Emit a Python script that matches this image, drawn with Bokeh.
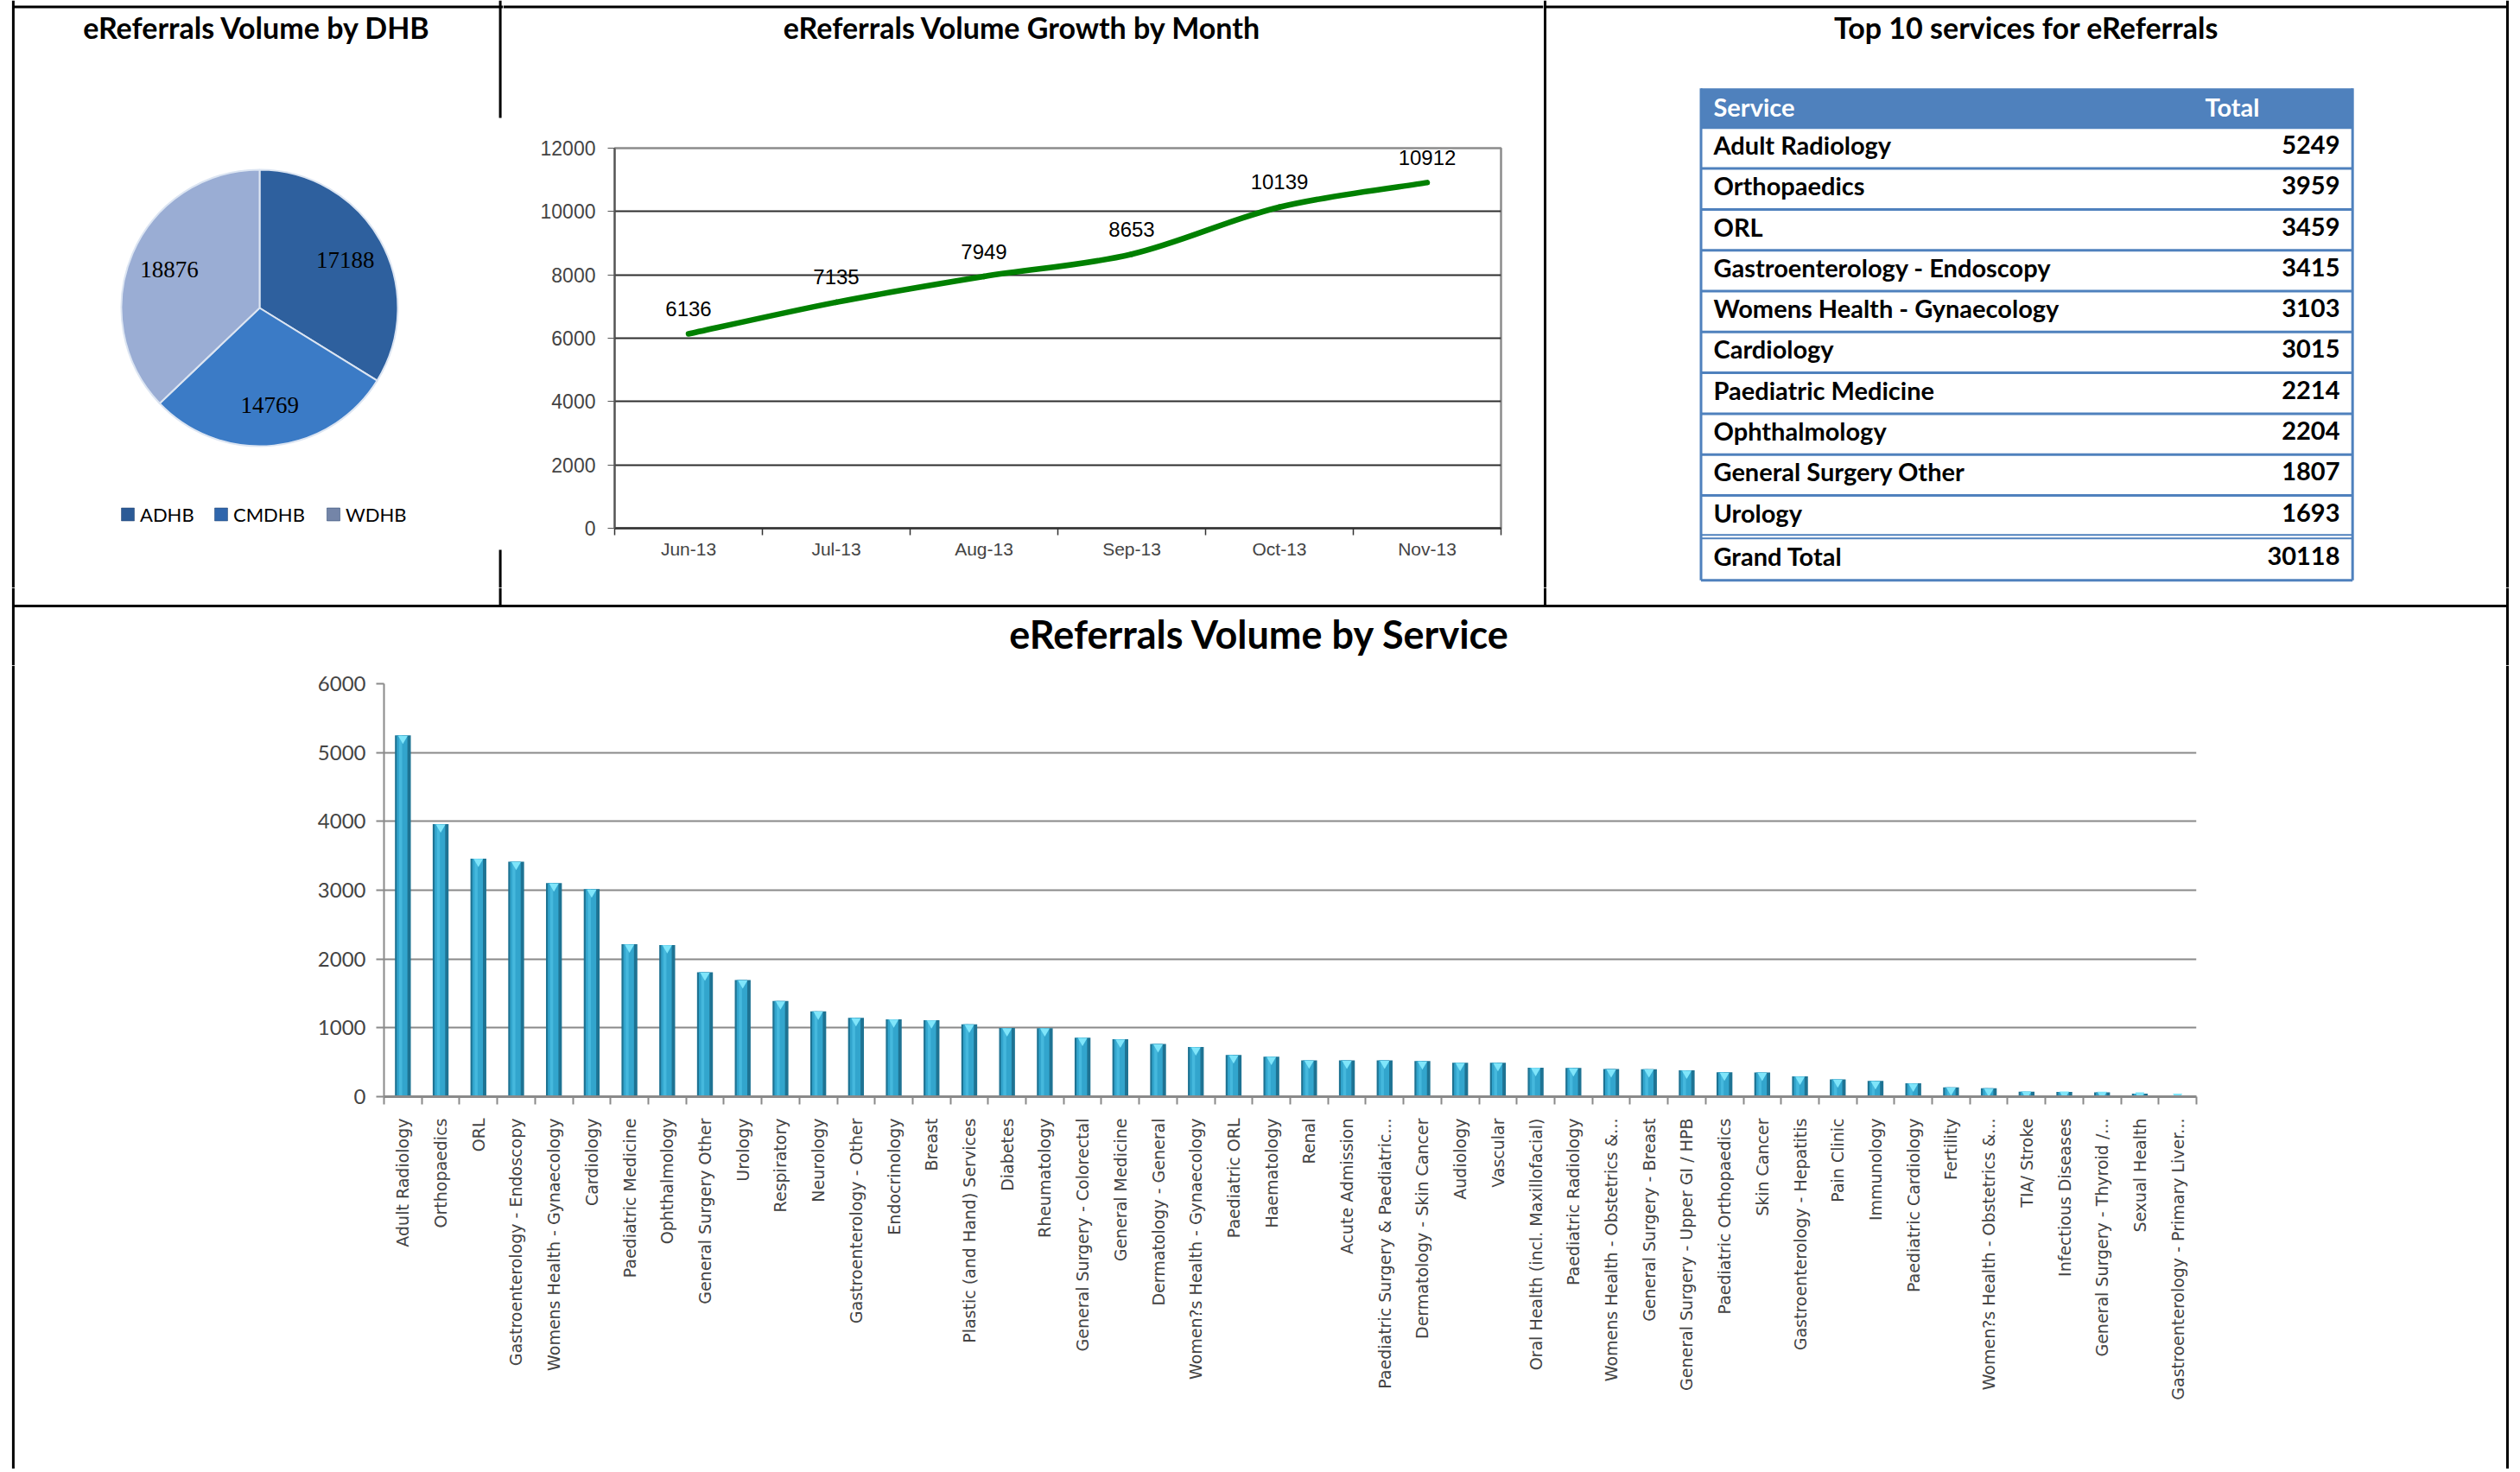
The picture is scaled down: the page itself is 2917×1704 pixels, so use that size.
import math
import numpy as np
from bokeh.plotting import figure
from bokeh.layouts import row, column
from bokeh.models import Range1d, LinearAxis, FixedTicker, CustomJSTickFormatter, Grid
from bokeh.core.properties import value
from bokeh.embed import file_html
from bokeh.resources import INLINE

# ---------------- data ----------------
dhb_names = ["ADHB", "CMDHB", "WDHB"]
dhb_values = [17188, 14769, 18876]

months = ["Jun-13", "Jul-13", "Aug-13", "Sep-13", "Oct-13", "Nov-13"]
month_values = [6136, 7135, 7949, 8653, 10139, 10912]
month_ticks = [0, 2000, 4000, 6000, 8000, 10000, 12000]

services = [
    "Adult Radiology", "Orthopaedics", "ORL", "Gastroenterology - Endoscopy",
    "Womens Health - Gynaecology", "Cardiology", "Paediatric Medicine", "Ophthalmology",
    "General Surgery Other", "Urology", "Respiratory", "Neurology",
    "Gastroenterology - Other", "Endocrinology", "Breast", "Plastic (and Hand) Services",
    "Diabetes", "Rheumatology", "General Surgery - Colorectal", "General Medicine",
    "Dermatology - General", "Women?s Health - Gynaecology", "Paediatric ORL", "Haematology",
    "Renal", "Acute Admission", "Paediatric Surgery & Paediatric...", "Dermatology - Skin Cancer",
    "Audiology", "Vascular", "Oral Health (incl. Maxillofacial)", "Paediatric Radiology",
    "Womens Health - Obstetrics &...", "General Surgery - Breast", "General Surgery - Upper GI / HPB",
    "Paediatric Orthopaedics", "Skin Cancer", "Gastroenterology - Hepatitis", "Pain Clinic",
    "Immunology", "Paediatric Cardiology", "Fertility", "Women?s Health - Obstetrics &...",
    "TIA/ Stroke", "Infectious Diseases", "General Surgery - Thyroid /...", "Sexual Health",
    "Gastroenterology - Primary Liver...",
]
service_values = [
    5249, 3959, 3459, 3415, 3103, 3015, 2214, 2204, 1807, 1693, 1390, 1240,
    1145, 1125, 1112, 1050, 998, 996, 858, 834, 765, 722, 605, 582,
    528, 527, 527, 517, 494, 493, 421, 416, 402, 400, 382, 354,
    352, 295, 252, 228, 194, 136, 122, 73, 69, 64, 44, 10,
]
service_ticks = [0, 1000, 2000, 3000, 4000, 5000, 6000]
top_n = 10

# ---------------- styles ----------------
TITLE_FONT = "Lato"
BORDER = dict(line_color="black", line_width=3)
pie_colors = ["#2E609E", "#3B7BC6", "#9AADD4"]
legend_colors = ["#2B5A96", "#2F66AC", "#7485A8"]
TABLE_BLUE = "#4F81BD"

W_TOTAL, H_TOTAL = 2915, 1700
TOP_H, MID_Y1 = 680, 770
LEFT_B, RIGHT_B, TOP_B, DIV_Y = 14.9, 2902, 7.5, 701
DIV_X1, DIV_X2 = 578.6, 1788
TITLE_Y = 31


def panel(x0, x1, y0, y1):
    p = figure(width=x1 - x0, height=y1 - y0,
               x_range=Range1d(x0, x1), y_range=Range1d(-y1, -y0),
               x_axis_type=None, y_axis_type=None,
               min_border=0, toolbar_location=None, output_backend="svg")
    p.outline_line_color = None
    p.background_fill_color = "white"
    p.border_fill_color = "white"
    return p


def hline(p, x0, x1, y, **kw):
    st = dict(BORDER); st.update(kw)
    p.segment(x0=[x0], y0=[-y], x1=[x1], y1=[-y], **st)


def vline(p, x, y0, y1, **kw):
    st = dict(BORDER); st.update(kw)
    p.segment(x0=[x], y0=[-y0], x1=[x], y1=[-y1], **st)


def label(p, x, y, s, size, bold=False, align="center", font=TITLE_FONT, color="black"):
    p.text(x=[x], y=[-y], text=[s], text_font=value(font), text_font_size=size,
           text_font_style="bold" if bold else "normal", text_align=align,
           text_baseline="middle", text_color=color)


# ---------------- pie panel ----------------
pie = panel(0, 582, 0, TOP_H)
vline(pie, LEFT_B, 0, TOP_H)
hline(pie, LEFT_B, 582, TOP_B)
vline(pie, DIV_X1, 0, 136)
vline(pie, DIV_X1, 636, TOP_H)
label(pie, 297, TITLE_Y, "eReferrals Volume by DHB", "34px", bold=True)

cx, cy, r = 300, 356, 160
fr = np.array(dhb_values, dtype=float) / sum(dhb_values)
cum = np.concatenate([[0.0], np.cumsum(fr)])
start = np.pi / 2 - 2 * np.pi * cum[:-1]
end = np.pi / 2 - 2 * np.pi * cum[1:]
pie.wedge(x=[cx] * 3, y=[-cy] * 3, radius=r, start_angle=list(start), end_angle=list(end),
          direction="clock", fill_color=pie_colors, line_color="#DCE5F2", line_width=2)
mid = (start + end) / 2
pie.text(x=list(cx + 0.71 * r * np.cos(mid)), y=list(-cy + 0.71 * r * np.sin(mid)),
         text=[str(v) for v in dhb_values], text_font=value("Liberation Serif"),
         text_font_size="27px", text_align="center", text_baseline="middle", text_color="black")

leg_sq_x = [147.5, 255.5, 385.5]
pie.rect(x=leg_sq_x, y=[-595] * 3, width=15, height=15, fill_color=legend_colors,
         line_color="#1F3F6A", line_width=0.5)
pie.text(x=[x + 14 for x in leg_sq_x], y=[-595] * 3, text=dhb_names, text_font=value("Lato"),
         text_font_size="22px", text_align="left", text_baseline="middle", text_color="black")

# ---------------- line chart title strip ----------------
strip_top = panel(582, 1786, 0, 150)
hline(strip_top, 582, 1786, TOP_B)
label(strip_top, 1183, TITLE_Y, "eReferrals Volume Growth by Month", "34px", bold=True)

# ---------------- line chart ----------------
lp = figure(width=1204, height=TOP_H - 150, x_range=Range1d(0, len(months)), y_range=Range1d(0, 12000),
            x_axis_type=None, y_axis_type=None,
            min_border_left=129, min_border_right=49, min_border_top=21, min_border_bottom=69,
            toolbar_location=None, output_backend="svg")
lp.outline_line_color = "#8C8C8C"
lp.outline_line_width = 2.5
lp.background_fill_color = "white"
lp.border_fill_color = "white"

ly = LinearAxis(ticker=FixedTicker(ticks=month_ticks))
ly.axis_line_color = "#555555"; ly.axis_line_width = 2
ly.major_tick_out = 8; ly.major_tick_in = 0; ly.major_tick_line_color = "#555555"
ly.minor_tick_out = 0; ly.minor_tick_in = 0
ly.major_label_text_font = "Liberation Sans"; ly.major_label_text_font_size = "23px"
ly.major_label_standoff = 14
lp.add_layout(ly, "left")

mcent = [i + 0.5 for i in range(len(months))]
lx = LinearAxis(ticker=FixedTicker(ticks=mcent, minor_ticks=list(range(len(months) + 1))),
                formatter=CustomJSTickFormatter(args=dict(names=months),
                                                code="return names[Math.floor(tick)];"))
lx.axis_line_color = "#333333"; lx.axis_line_width = 2.5
lx.major_tick_out = 0; lx.major_tick_in = 0
lx.minor_tick_out = 8; lx.minor_tick_in = 0; lx.minor_tick_line_color = "#333333"
lx.minor_tick_line_width = 1.5
lx.major_label_text_font = "Liberation Sans"; lx.major_label_text_font_size = "21px"
lx.major_label_standoff = 4
lp.add_layout(lx, "below")
lp.add_layout(Grid(dimension=1, ticker=FixedTicker(ticks=month_ticks[1:-1]),
                   grid_line_color="#2E2E2E", grid_line_width=2))

pts = np.array([[x, y] for x, y in zip(mcent, month_values)], dtype=float)
n = len(pts)
bz = dict(x0=[], y0=[], x1=[], y1=[], cx0=[], cy0=[], cx1=[], cy1=[])
for i in range(n - 1):
    p0, p1, p2, p3 = pts[max(i - 1, 0)], pts[i], pts[i + 1], pts[min(i + 2, n - 1)]
    c0 = p1 + (p2 - p0) / 6.0
    c1 = p2 - (p3 - p1) / 6.0
    bz["x0"].append(p1[0]); bz["y0"].append(p1[1])
    bz["x1"].append(p2[0]); bz["y1"].append(p2[1])
    bz["cx0"].append(c0[0]); bz["cy0"].append(c0[1])
    bz["cx1"].append(c1[0]); bz["cy1"].append(c1[1])
lp.bezier(**bz, line_color="#008000", line_width=6.5, line_cap="round")
lp.text(x=mcent, y=month_values, text=[str(v) for v in month_values], y_offset=-29,
        text_font=value("Liberation Sans"), text_font_size="24px", text_align="center",
        text_baseline="middle", text_color="black")

# ---------------- table panel ----------------
tb = panel(1786, W_TOTAL, 0, TOP_H)
hline(tb, 1786, RIGHT_B, TOP_B)
vline(tb, DIV_X2, 0, TOP_H)
vline(tb, RIGHT_B, 0, TOP_H)
label(tb, 2345, TITLE_Y, "Top 10 services for eReferrals", "34px", bold=True)

TL, TR = 1968.5, 2722.7
HEAD_T, HEAD_B, ROW_H = 101.8, 147.3, 47.3
TXT_SHIFT = 4
tb.quad(left=[TL], right=[TR], top=[-HEAD_T], bottom=[-HEAD_B], fill_color=TABLE_BLUE, line_color=None)
label(tb, 1983, (HEAD_T + HEAD_B) / 2 - 2, "Service", "29px", bold=True, align="left", color="white")
label(tb, 2552, (HEAD_T + HEAD_B) / 2 - 2, "Total", "29px", bold=True, align="left", color="white")

top_names = services[:top_n]
top_vals = service_values[:top_n]
row_tops = [HEAD_B + ROW_H * i for i in range(top_n)]
row_mid = [t + ROW_H / 2 - TXT_SHIFT for t in row_tops]
tb.segment(x0=[TL] * top_n, x1=[TR] * top_n, y0=[-t for t in row_tops], y1=[-t for t in row_tops],
           line_color=TABLE_BLUE, line_width=3)
last = HEAD_B + ROW_H * top_n
tb.segment(x0=[TL, TL], x1=[TR, TR], y0=[-(last - 1.5), -(last + 2.5)], y1=[-(last - 1.5), -(last + 2.5)],
           line_color=TABLE_BLUE, line_width=2)
GT_B = last + 51
hline(tb, TL, TR, GT_B, line_color=TABLE_BLUE, line_width=3)
vline(tb, TL, HEAD_T, GT_B, line_color=TABLE_BLUE, line_width=3)
vline(tb, TR, HEAD_T, GT_B, line_color=TABLE_BLUE, line_width=3)
tb.text(x=[1983] * top_n, y=[-m for m in row_mid], text=top_names, text_font=value("Lato"),
        text_font_size="29px", text_font_style="bold", text_align="left", text_baseline="middle",
        text_color="black")
tb.text(x=[2708] * top_n, y=[-m for m in row_mid], text=[str(v) for v in top_vals],
        text_font=value("Lato"), text_font_size="29px", text_font_style="bold", text_align="right",
        text_baseline="middle", text_color="black")
gt_mid = (last + 2.5 + GT_B) / 2 - TXT_SHIFT
label(tb, 1983, gt_mid, "Grand Total", "29px", bold=True, align="left")
label(tb, 2708, gt_mid, str(sum(top_vals)), "29px", bold=True, align="right")

# ---------------- middle strip (divider + bar title) ----------------
sm = panel(0, W_TOTAL, TOP_H, MID_Y1)
vline(sm, LEFT_B, TOP_H, MID_Y1)
vline(sm, RIGHT_B, TOP_H, MID_Y1)
vline(sm, DIV_X1, TOP_H, DIV_Y)
vline(sm, DIV_X2, TOP_H, DIV_Y)
hline(sm, LEFT_B, RIGHT_B, DIV_Y)
label(sm, 1458, 733, "eReferrals Volume by Service", "45px", bold=True)

# ---------------- bar chart ----------------
left_strip = panel(0, 300, MID_Y1, H_TOTAL)
vline(left_strip, LEFT_B, MID_Y1, H_TOTAL)
right_strip = panel(2700, W_TOTAL, MID_Y1, H_TOTAL)
vline(right_strip, RIGHT_B, MID_Y1, H_TOTAL)

nb = len(services)
bp = figure(width=2400, height=H_TOTAL - MID_Y1, x_range=Range1d(0, nb), y_range=Range1d(0, 6000),
            x_axis_type=None, y_axis_type=None,
            min_border_left=144, min_border_right=158, min_border_top=21,
            min_border_bottom=H_TOTAL - 1269,
            toolbar_location=None, output_backend="svg")
bp.outline_line_color = None
bp.background_fill_color = "white"
bp.border_fill_color = "white"

by = LinearAxis(ticker=FixedTicker(ticks=service_ticks))
by.axis_line_color = "#8A8A8A"; by.axis_line_width = 2
by.major_tick_out = 9; by.major_tick_in = 0; by.major_tick_line_color = "#8A8A8A"
by.major_tick_line_width = 2
by.minor_tick_out = 0; by.minor_tick_in = 0
by.major_label_text_font = "Lato"; by.major_label_text_font_size = "24px"
by.major_label_standoff = 12
bp.add_layout(by, "left")

bcent = [i + 0.5 for i in range(nb)]
bx = LinearAxis(ticker=FixedTicker(ticks=bcent, minor_ticks=list(range(nb + 1))),
                formatter=CustomJSTickFormatter(args=dict(names=services),
                                                code="return names[Math.floor(tick)];"))
bx.axis_line_color = "#8A8A8A"; bx.axis_line_width = 3
bx.major_tick_out = 0; bx.major_tick_in = 0
bx.minor_tick_out = 9; bx.minor_tick_in = 0; bx.minor_tick_line_color = "#8A8A8A"
bx.minor_tick_line_width = 2
bx.major_label_orientation = math.pi / 2
bx.major_label_text_font = "DejaVu Sans"; bx.major_label_text_font_size = "19px"
bx.major_label_standoff = 16
bp.add_layout(bx, "below")
bp.add_layout(Grid(dimension=1, ticker=FixedTicker(ticks=service_ticks[1:]),
                   grid_line_color="#8A8A8A", grid_line_width=2))

bp.vbar(x=bcent, top=service_values, bottom=0, width=0.42, fill_color="#1E7393", line_color=None)
bp.vbar(x=[c - 0.02 for c in bcent], top=service_values, bottom=0, width=0.28,
        fill_color="#32A5CD", line_color=None)
bp.vbar(x=[c - 0.06 for c in bcent], top=service_values, bottom=0, width=0.08,
        fill_color="#45B8DD", line_color=None)
cap_y = [max(v - 45, v * 0.5) for v in service_values]
bp.scatter(x=bcent, y=cap_y, marker="inverted_triangle", size=11, fill_color="#7FE5FA",
           line_color=None)

# ---------------- layout ----------------
# chart figures are wrapped in their own columns so that decoration panels keep their full frames
middle = column(strip_top, column(lp, spacing=0), spacing=0)
top = row(pie, middle, tb, spacing=0)
bottom = column(sm, row(left_strip, column(bp, spacing=0), right_strip, spacing=0), spacing=0)
page = column(top, bottom, spacing=0)

open("out.html", "w").write(file_html(page, INLINE))
